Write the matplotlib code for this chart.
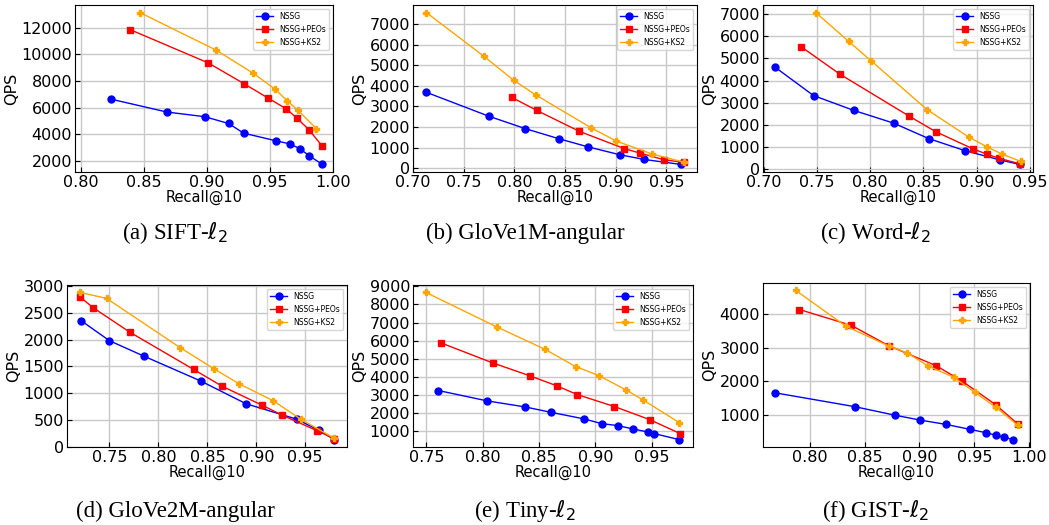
import numpy as np
from matplotlib import pyplot as plt

# (a) SIFT
sift_nssg_x = [0.824, 0.868, 0.898, 0.917, 0.929, 0.955, 0.966, 0.974, 0.981, 0.9915]
sift_nssg_y = [6620, 5660, 5310, 4800, 4070, 3490, 3260, 2880, 2380, 1720]
sift_peos_x = [0.839, 0.901, 0.9295, 0.9486, 0.963, 0.971, 0.981, 0.9913]
sift_peos_y = [11850, 9350, 7780, 6700, 5890, 5230, 4320, 3110]
sift_ks2_x = [0.8466, 0.9073, 0.9367, 0.954, 0.9634, 0.972, 0.9867]
sift_ks2_y = [13140, 10310, 8570, 7380, 6520, 5810, 4420]

# (b) GloVe1M
g1_nssg_x = [0.7132, 0.7748, 0.8106, 0.8437, 0.8728, 0.904, 0.9282, 0.9642]
g1_nssg_y = [3680, 2520, 1920, 1430, 1030, 650, 420, 180]
g1_peos_x = [0.7974, 0.8222, 0.8639, 0.9086, 0.9235, 0.9477, 0.9675]
g1_peos_y = [3435, 2800, 1790, 945, 735, 405, 277]
g1_ks2_x = [0.7132, 0.7702, 0.7993, 0.8212, 0.8758, 0.9003, 0.9358, 0.9669]
g1_ks2_y = [7550, 5420, 4265, 3550, 1955, 1320, 685, 293]

# (c) Word
w_nssg_x = [0.7106, 0.7466, 0.7844, 0.8219, 0.855, 0.8891, 0.9225, 0.9406]
w_nssg_y = [4600, 3325, 2655, 2080, 1380, 835, 410, 213]
w_peos_x = [0.7347, 0.7713, 0.8369, 0.8619, 0.8969, 0.9094, 0.9213, 0.9406]
w_peos_y = [5540, 4295, 2385, 1685, 910, 683, 486, 243]
w_ks2_x = [0.7488, 0.7797, 0.8009, 0.8534, 0.8925, 0.9094, 0.9238, 0.9416]
w_ks2_y = [7075, 5770, 4890, 2690, 1455, 1017, 683, 349]

# (d) GloVe2M
g2_nssg_x = [0.7213, 0.75, 0.7855, 0.8432, 0.8895, 0.9412, 0.9639, 0.9797]
g2_nssg_y = [2350, 1980, 1690, 1230, 806, 519, 313, 138]
g2_peos_x = [0.7196, 0.7334, 0.7709, 0.8361, 0.8652, 0.9057, 0.9264, 0.9618, 0.9797]
g2_peos_y = [2800, 2594, 2138, 1444, 1131, 781, 594, 306, 156]
g2_ks2_x = [0.7196, 0.747, 0.8223, 0.8568, 0.8821, 0.9172, 0.9459, 0.9797]
g2_ks2_y = [2881, 2769, 1850, 1456, 1181, 863, 513, 163]

# (e) Tiny
t_nssg_x = [0.7606, 0.804, 0.8376, 0.8603, 0.8901, 0.9055, 0.9199, 0.9335, 0.9465, 0.9524, 0.9745]
t_nssg_y = [3250, 2677, 2345, 2050, 1682, 1424, 1313, 1129, 963, 871, 539]
t_peos_x = [0.7627, 0.8087, 0.842, 0.8659, 0.8839, 0.917, 0.9482, 0.9754]
t_peos_y = [5884, 4778, 4059, 3506, 3027, 2364, 1645, 871]
t_ks2_x = [0.7494, 0.8128, 0.855, 0.8824, 0.9031, 0.9276, 0.9423, 0.9745]
t_ks2_y = [8667, 6750, 5534, 4575, 4078, 3267, 2732, 1479]

# (f) GIST
gi_nssg_x = [0.7685, 0.8409, 0.8776, 0.9009, 0.9242, 0.946, 0.9603, 0.97, 0.977, 0.9852]
gi_nssg_y = [1651, 1237, 980, 832, 704, 556, 457, 378, 319, 250]
gi_peos_x = [0.7906, 0.8379, 0.8721, 0.9155, 0.9391, 0.9694, 0.9897]
gi_peos_y = [4148, 3674, 3062, 2460, 1997, 1296, 714]
gi_ks2_x = [0.7873, 0.8327, 0.8721, 0.8891, 0.9076, 0.9315, 0.9506, 0.9697, 0.9897]
gi_ks2_y = [4720, 3654, 3053, 2845, 2460, 2115, 1661, 1217, 674]

captions = ["(a) SIFT-$\\ell_2$", "(b) GloVe1M-angular", "(c) Word-$\\ell_2$",
            "(d) GloVe2M-angular", "(e) Tiny-$\\ell_2$", "(f) GIST-$\\ell_2$"]

panels = [
    (sift_nssg_x, sift_nssg_y, sift_peos_x, sift_peos_y, sift_ks2_x, sift_ks2_y),
    (g1_nssg_x, g1_nssg_y, g1_peos_x, g1_peos_y, g1_ks2_x, g1_ks2_y),
    (w_nssg_x, w_nssg_y, w_peos_x, w_peos_y, w_ks2_x, w_ks2_y),
    (g2_nssg_x, g2_nssg_y, g2_peos_x, g2_peos_y, g2_ks2_x, g2_ks2_y),
    (t_nssg_x, t_nssg_y, t_peos_x, t_peos_y, t_ks2_x, t_ks2_y),
    (gi_nssg_x, gi_nssg_y, gi_peos_x, gi_peos_y, gi_ks2_x, gi_ks2_y),
]

yticks = [np.arange(2000, 12001, 2000), np.arange(0, 7001, 1000), np.arange(0, 7001, 1000),
          np.arange(0, 3001, 500), np.arange(1000, 9001, 1000), np.arange(1000, 4001, 1000)]
xticks = [np.arange(0.80, 1.001, 0.05), np.arange(0.70, 0.951, 0.05), np.arange(0.70, 0.951, 0.05),
          np.arange(0.75, 0.951, 0.05), np.arange(0.75, 0.951, 0.05), np.arange(0.80, 1.001, 0.05)]

# axes boxes in pixels: left, right, top, bottom
W, H = 1049, 525
boxes = [(75, 333, 5, 172), (413, 697, 5, 172), (763, 1033, 5, 172),
         (67, 347, 285, 447), (413, 693, 285, 447), (763, 1030, 283, 447)]

fig = plt.figure(figsize=(W / 100, H / 100), dpi=100)

for i, (p, box) in enumerate(zip(panels, boxes)):
    l, r, t, b = box
    ax = fig.add_axes([l / W, 1 - b / H, (r - l) / W, (b - t) / H])
    ax.plot(p[0], p[1], "-o", color="blue", lw=1, ms=5, label="NSSG")
    ax.plot(p[2], p[3], "-s", color="red", lw=1, ms=5, label="NSSG+PEOs")
    ax.plot(p[4], p[5], "-P", color="orange", lw=1, ms=5, label="NSSG+KS2")
    ax.set_xticks(xticks[i])
    ax.set_yticks(yticks[i])
    ax.set_xticklabels(["%.2f" % v for v in xticks[i]])
    if i == 0:
        ax.set_xlim(0.795, 1.0)
    ax.grid(True, color="#c8c8c8", lw=1)
    ax.set_axisbelow(True)
    ax.tick_params(direction="in", labelsize=11.5, pad=2)
    ax.set_xlabel("Recall@10", fontsize=10.5, labelpad=0)
    ax.set_ylabel("QPS", fontsize=11.5, labelpad=2)
    ax.legend(loc="upper right", fontsize=5.5, handlelength=2.2)
    cx = [175, 525, 875][i % 3]
    cy = 233 if i < 3 else 511
    fig.text(cx / W, 1 - cy / H, captions[i], ha="center", va="center",
             fontsize=16.5, family="Liberation Serif")

plt.savefig("out.png", dpi=100)
